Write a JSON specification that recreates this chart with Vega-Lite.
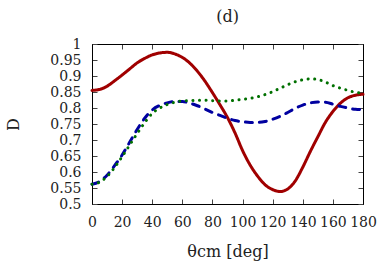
{
  "$schema": "https://vega.github.io/schema/vega-lite/v6.json",
  "width": 271,
  "height": 160,
  "autosize": {"type": "none"},
  "padding": {"left": 92, "top": 44, "right": 19, "bottom": 65},
  "background": "white",
  "config": {
    "view": {"stroke": "#000", "strokeWidth": 1},
    "font": "DejaVu Serif",
    "axis": {
      "grid": false,
      "domainColor": "#000",
      "tickColor": "#444",
      "labelColor": "#222",
      "titleColor": "#222",
      "labelFont": "DejaVu Serif",
      "titleFont": "DejaVu Serif",
      "labelFontSize": 14,
      "titleFontSize": 16,
      "titleFontWeight": "normal",
      "tickSize": -5,
      "labelPadding": 16,
      "labelOverlap": false,
      "labelFlush": false
    }
  },
  "title": {"text": "(d)", "fontSize": 16, "font": "DejaVu Serif", "fontWeight": "normal", "color": "#222", "offset": 12, "anchor": "middle"},
  "data": {"values": [
    {"s":"a","x":0,"D":0.855},{"s":"a","x":5,"D":0.858},{"s":"a","x":10,"D":0.868},{"s":"a","x":15,"D":0.885},{"s":"a","x":20,"D":0.903},{"s":"a","x":25,"D":0.922},{"s":"a","x":30,"D":0.941},{"s":"a","x":35,"D":0.955},{"s":"a","x":40,"D":0.966},{"s":"a","x":45,"D":0.972},{"s":"a","x":50,"D":0.974},{"s":"a","x":55,"D":0.969},{"s":"a","x":60,"D":0.958},{"s":"a","x":65,"D":0.94},{"s":"a","x":70,"D":0.915},{"s":"a","x":75,"D":0.884},{"s":"a","x":80,"D":0.848},{"s":"a","x":85,"D":0.81},{"s":"a","x":90,"D":0.77},{"s":"a","x":95,"D":0.722},{"s":"a","x":100,"D":0.667},{"s":"a","x":105,"D":0.622},{"s":"a","x":110,"D":0.587},{"s":"a","x":115,"D":0.56},{"s":"a","x":120,"D":0.545},{"s":"a","x":125,"D":0.539},{"s":"a","x":130,"D":0.547},{"s":"a","x":135,"D":0.572},{"s":"a","x":140,"D":0.615},{"s":"a","x":145,"D":0.664},{"s":"a","x":150,"D":0.71},{"s":"a","x":155,"D":0.755},{"s":"a","x":160,"D":0.789},{"s":"a","x":165,"D":0.815},{"s":"a","x":170,"D":0.832},{"s":"a","x":175,"D":0.84},{"s":"a","x":180,"D":0.843},
    {"s":"b","x":0,"D":0.562},{"s":"b","x":5,"D":0.57},{"s":"b","x":10,"D":0.59},{"s":"b","x":15,"D":0.62},{"s":"b","x":20,"D":0.653},{"s":"b","x":25,"D":0.693},{"s":"b","x":30,"D":0.733},{"s":"b","x":35,"D":0.768},{"s":"b","x":40,"D":0.794},{"s":"b","x":45,"D":0.808},{"s":"b","x":50,"D":0.816},{"s":"b","x":55,"D":0.82},{"s":"b","x":60,"D":0.82},{"s":"b","x":65,"D":0.815},{"s":"b","x":70,"D":0.807},{"s":"b","x":75,"D":0.797},{"s":"b","x":80,"D":0.786},{"s":"b","x":85,"D":0.777},{"s":"b","x":90,"D":0.768},{"s":"b","x":95,"D":0.761},{"s":"b","x":100,"D":0.757},{"s":"b","x":105,"D":0.755},{"s":"b","x":110,"D":0.755},{"s":"b","x":115,"D":0.758},{"s":"b","x":120,"D":0.765},{"s":"b","x":125,"D":0.774},{"s":"b","x":130,"D":0.786},{"s":"b","x":135,"D":0.799},{"s":"b","x":140,"D":0.809},{"s":"b","x":145,"D":0.816},{"s":"b","x":150,"D":0.819},{"s":"b","x":155,"D":0.818},{"s":"b","x":160,"D":0.812},{"s":"b","x":165,"D":0.805},{"s":"b","x":170,"D":0.8},{"s":"b","x":175,"D":0.796},{"s":"b","x":180,"D":0.795},
    {"s":"c","x":0,"D":0.562},{"s":"c","x":5,"D":0.568},{"s":"c","x":10,"D":0.586},{"s":"c","x":15,"D":0.614},{"s":"c","x":20,"D":0.648},{"s":"c","x":25,"D":0.684},{"s":"c","x":30,"D":0.72},{"s":"c","x":35,"D":0.754},{"s":"c","x":40,"D":0.783},{"s":"c","x":45,"D":0.8},{"s":"c","x":50,"D":0.811},{"s":"c","x":55,"D":0.818},{"s":"c","x":60,"D":0.822},{"s":"c","x":65,"D":0.823},{"s":"c","x":70,"D":0.824},{"s":"c","x":75,"D":0.824},{"s":"c","x":80,"D":0.823},{"s":"c","x":85,"D":0.822},{"s":"c","x":90,"D":0.822},{"s":"c","x":95,"D":0.824},{"s":"c","x":100,"D":0.827},{"s":"c","x":105,"D":0.83},{"s":"c","x":110,"D":0.835},{"s":"c","x":115,"D":0.842},{"s":"c","x":120,"D":0.851},{"s":"c","x":125,"D":0.862},{"s":"c","x":130,"D":0.873},{"s":"c","x":135,"D":0.882},{"s":"c","x":140,"D":0.888},{"s":"c","x":145,"D":0.891},{"s":"c","x":150,"D":0.889},{"s":"c","x":155,"D":0.881},{"s":"c","x":160,"D":0.87},{"s":"c","x":165,"D":0.862},{"s":"c","x":170,"D":0.855},{"s":"c","x":175,"D":0.849},{"s":"c","x":180,"D":0.846}
  ]},
  "layer": [
    {
      "mark": {"type": "line", "strokeWidth": 3, "strokeCap": "round", "interpolate": "monotone"},
      "encoding": {
        "x": {"field": "x", "type": "quantitative", "scale": {"domain": [0, 180], "nice": false}, "axis": {"orient": "bottom", "values": [0,20,40,60,80,100,120,140,160,180], "title": "θcm [deg]", "titlePadding": 14}},
        "y": {"field": "D", "type": "quantitative", "scale": {"domain": [0.5, 1], "nice": false, "zero": false}, "axis": {"orient": "left", "values": [0.5,0.55,0.6,0.65,0.7,0.75,0.8,0.85,0.9,0.95,1], "format": "~g", "title": "D", "titlePadding": 28}},
        "color": {"field": "s", "type": "nominal", "legend": null, "scale": {"domain": ["a","b","c"], "range": ["#a00000", "#0000a0", "#007000"]}},
        "strokeDash": {"field": "s", "type": "nominal", "legend": null, "scale": {"domain": ["a","b","c"], "range": [[1,0],[7,7],[0.1,6.5]]}},
        "order": {"field": "x", "type": "quantitative"}
      }
    },
    {
      "mark": {"type": "point", "opacity": 0},
      "encoding": {
        "x": {"field": "x", "type": "quantitative", "axis": {"orient": "top", "values": [0,20,40,60,80,100,120,140,160,180], "labels": false, "title": null}},
        "y": {"field": "D", "type": "quantitative", "axis": {"orient": "right", "values": [0.5,0.55,0.6,0.65,0.7,0.75,0.8,0.85,0.9,0.95,1], "labels": false, "title": null}}
      }
    }
  ],
  "resolve": {"axis": {"x": "independent", "y": "independent"}}
}
